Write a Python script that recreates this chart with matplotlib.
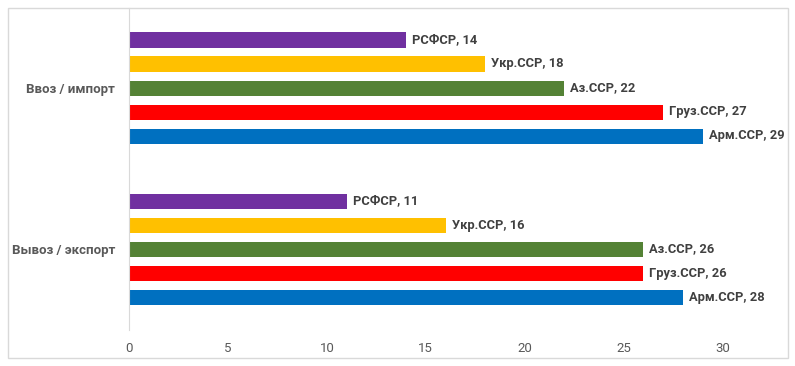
import matplotlib.pyplot as plt
import numpy as np
from matplotlib.patches import Rectangle

categories = ['Вывоз / экспорт', 'Ввоз / импорт']
series = ['Арм.ССР', 'Груз.ССР', 'Аз.ССР', 'Укр.ССР', 'РСФСР']
export_vals = [28, 26, 26, 16, 11]
import_vals = [29, 27, 22, 18, 14]
colors = ['#0070C0', '#FF0000', '#548235', '#FFC000', '#7030A0']

plt.rcParams['font.family'] = ['Roboto', 'DejaVu Sans']

fig = plt.figure(figsize=(7.95, 3.66), dpi=100)
fig.patches.append(Rectangle((8 / 795, 8 / 366), 780 / 795, 350 / 366,
                             transform=fig.transFigure, fill=False,
                             edgecolor='#d9d9d9', linewidth=1))

x0 = 129 / 795
ax = fig.add_axes([x0, 36.5 / 366, (782 - 129) / 795, 322 / 366])

step = 24 / 161
h = 15 / 161
y_cat = np.arange(len(categories))
for i, name in enumerate(series):
    vals = [export_vals[i], import_vals[i]]
    ys = y_cat + (i - 2) * step
    ax.barh(ys, vals, height=h, color=colors[i])
    for y, v in zip(ys, vals):
        ax.text(v + 0.3, y, f'{name}, {v}', va='center', ha='left',
                fontsize=9.3, fontweight='bold', color='#404040')

ax.set_xlim(0, 33)
ax.set_ylim(-0.5, 1.5)
ax.set_xticks(range(0, 31, 5))
ax.set_yticks(y_cat)
ax.set_yticklabels(categories)
ax.tick_params(length=0, labelcolor='#595959', labelsize=9.5)
ax.tick_params(axis='y', pad=10)
ax.tick_params(axis='x', pad=9)
for lbl in ax.get_yticklabels():
    lbl.set_fontweight('bold')
    lbl.set_fontsize(9.5)
for s in ['top', 'right', 'bottom']:
    ax.spines[s].set_visible(False)
ax.spines['left'].set_color('#d9d9d9')

plt.savefig('out.png', dpi=100)
